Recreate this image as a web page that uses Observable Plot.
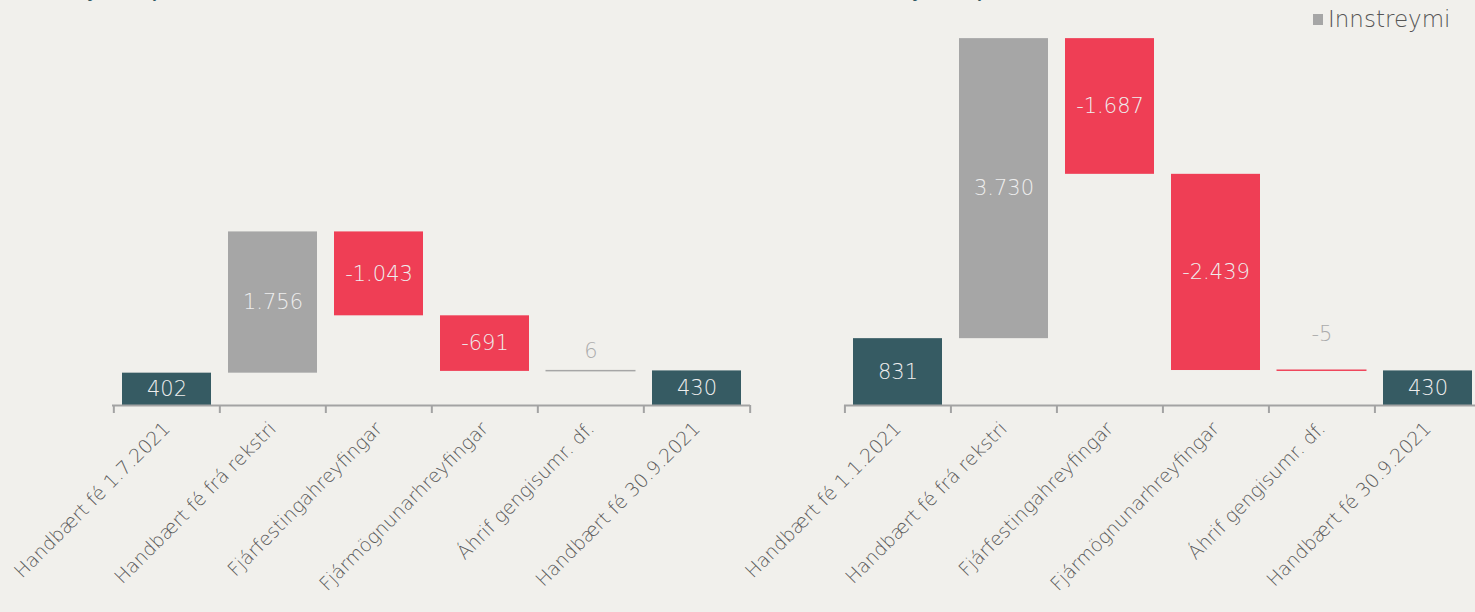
<!DOCTYPE html>
<html>
<head>
<meta charset="utf-8">
<script src="https://cdn.jsdelivr.net/npm/d3@7"></script>
<script src="https://cdn.jsdelivr.net/npm/@observablehq/plot@0.6"></script>
<style>
  html, body { margin: 0; padding: 0; background: #f1f0ec; }
  #wrap { position: relative; width: 1475px; height: 612px; overflow: hidden; background: #f1f0ec; font-family: "DejaVu Sans", sans-serif; }
  #left, #right { position: absolute; top: 0; }
  #left { left: 0; width: 770px; }
  #right { left: 770px; width: 720px; }
  #left svg, #right svg { max-width: none !important; }
  .title { position: absolute; top: -21px; font-family: Lato, sans-serif; font-size: 20px; line-height: 20px; font-weight: 700; color: #2f5a63; white-space: nowrap; }
  .title span { color: #b9c4c4; }
  #legend { position: absolute; left: 1313px; top: 6px; font-size: 23px; font-weight: 200; color: #555; display: flex; align-items: center; white-space: nowrap; }
  #legend i { display: inline-block; width: 10px; height: 11px; background: #a6a6a6; margin-right: 5px; }
</style>
</head>
<body>
<div id="wrap">
  <div class="title" style="left:78px">Sjóðstreymi <span>3F 2021</span></div>
  <div class="title" style="left:903px">Sjóðstreymi <span>9M 2021</span></div>
  <div id="legend"><i></i>Innstreymi</div>
  <div id="left"></div>
  <div id="right"></div>
</div>
<script>
// ---- data ----
const leftCategories = ["Handbært fé 1.7.2021", "Handbært fé frá rekstri", "Fjárfestingahreyfingar", "Fjármögnunarhreyfingar", "Áhrif gengisumr. df.", "Handbært fé 30.9.2021"];
const leftValues = [402, 1756, -1043, -691, 6, 430];
const rightCategories = ["Handbært fé 1.1.2021", "Handbært fé frá rekstri", "Fjárfestingahreyfingar", "Fjármögnunarhreyfingar", "Áhrif gengisumr. df.", "Handbært fé 30.9.2021"];
const rightValues = [831, 3730, -1687, -2439, -5, 430];
const kinds = ["total", "delta", "delta", "delta", "delta", "total"];
const yDomain = [0, 4600];

// ---- helpers ----
const isFmt = d3.formatLocale({decimal: ",", thousands: ".", grouping: [3], currency: ["", ""], minus: "-"}).format(",d");
const colors = {total: "#365b63", pos: "#a6a6a6", neg: "#ef3e55"};
const FONT = "'DejaVu Sans', sans-serif";

function buildRows(categories, values) {
  let run = 0;
  return categories.map((c, i) => {
    const v = values[i];
    let y1, y2, type;
    if (kinds[i] === "total") { y1 = 0; y2 = v; run = v; type = "total"; }
    else { y1 = run; y2 = run + v; run = y2; type = v >= 0 ? "pos" : "neg"; }
    return {cat: c, value: v, y1, y2, lo: Math.min(y1, y2), hi: Math.max(y1, y2), type, small: Math.abs(v) < 50, label: isFmt(v)};
  });
}

function chart(categories, values, width, marginLeft, marginRight, smallDy) {
  const rows = buildRows(categories, values);
  const height = 612, marginTop = 35, marginBottom = 207;
  const step = (width - marginLeft - marginRight) / categories.length;
  return Plot.plot({
    width, height, marginTop, marginBottom, marginLeft, marginRight,
    style: {background: "transparent", fontFamily: FONT, overflow: "visible"},
    x: {domain: categories, paddingInner: 0.165, paddingOuter: 0.0825, axis: null},
    y: {domain: yDomain, axis: null},
    marks: [
      Plot.rectY(rows, {x: "cat", y1: "y1", y2: "y2", fill: d => colors[d.type], stroke: d => d.small ? colors[d.type] : "none", strokeWidth: 1}),
      Plot.ruleY([0], {stroke: "#a3a3a3", strokeWidth: 2}),
      Plot.ruleX(categories, {x: d => d, y1: 0, y2: 0, insetBottom: -8, dx: -step / 2, stroke: "#a3a3a3", strokeWidth: 2}),
      Plot.ruleX([categories[categories.length - 1]], {x: d => d, y1: 0, y2: 0, insetBottom: -8, dx: step / 2, stroke: "#a3a3a3", strokeWidth: 2}),
      Plot.text(rows.filter(d => !d.small), {x: "cat", y: d => (d.y1 + d.y2) / 2, text: "label", fill: "#eeeeee", fontSize: 21, fontWeight: 200}),
      Plot.text(rows.filter(d => d.small), {x: "cat", y: "hi", text: "label", fill: "#ababab", fontSize: 21, fontWeight: 200, dy: smallDy}),
      Plot.axisX({domain: categories, tickSize: 0, tickRotate: -45, tickPadding: 20, fontSize: 19, fontWeight: 200, fill: "#5a5a5a", textAnchor: "end", label: null})
    ]
  });
}

document.getElementById("left").append(chart(leftCategories, leftValues, 770, 112, 20, -20));
document.getElementById("right").append(chart(rightCategories, rightValues, 720, 74, 9, -36));
</script>
</body>
</html>
